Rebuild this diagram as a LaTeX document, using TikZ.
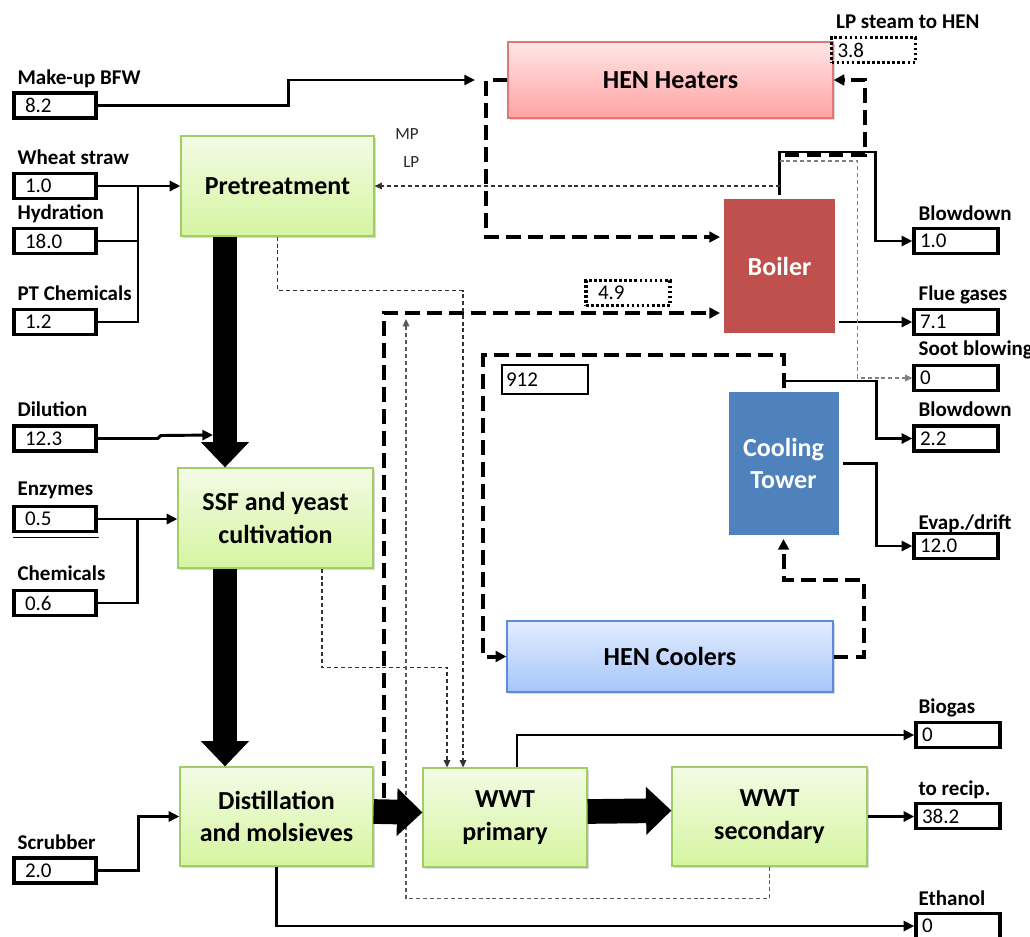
\documentclass[tikz,border=0pt]{standalone}
\usepackage{fontspec}
\setmainfont{Carlito}
\usetikzlibrary{arrows.meta,calc,shadows}

\definecolor{grtop}{RGB}{243,251,229}
\definecolor{grbot}{RGB}{213,245,160}
\definecolor{grline}{RGB}{160,205,100}
\definecolor{pktop}{RGB}{255,230,230}
\definecolor{pkbot}{RGB}{255,162,162}
\definecolor{pkline}{RGB}{225,120,120}
\definecolor{bltop}{RGB}{226,236,255}
\definecolor{blbot}{RGB}{166,198,250}
\definecolor{blline}{RGB}{90,140,215}
\definecolor{boilred}{RGB}{192,80,77}
\definecolor{ctblue}{RGB}{79,129,189}

\begin{document}
\begin{tikzpicture}[x=0.75pt,y=-0.75pt,
  sz/.style 2 args={minimum width=#1*0.75pt, minimum height=#2*0.75pt},
  boxfont/.style={font=\fontsize{19.5}{24.5}\selectfont\bfseries},
  softshadow/.style={drop shadow={shadow xshift=1.6pt, shadow yshift=-1.6pt, opacity=0.3}},
  proc/.style={draw=grline, line width=0.9pt, top color=grtop, bottom color=grbot,
    inner sep=0pt, align=center, boxfont, softshadow},
  heater/.style={proc, draw=pkline, top color=pktop, bottom color=pkbot},
  cooler/.style={proc, draw=blline, top color=bltop, bottom color=blbot},
  utility/.style={draw=white, line width=3pt, text=white, inner sep=0pt, align=center,
    boxfont, softshadow},
  valbox/.style={draw, line width=2.5pt, inner ysep=0pt, minimum height=25*0.75pt,
    align=left, font=\fontsize{15.75}{18}\selectfont},
  leftval/.style={valbox, inner xsep=8.25pt, text width=45pt},
  rightval/.style={valbox, inner xsep=4.5pt, text width=54pt},
  dotbox/.style={rightval, dash pattern=on 2pt off 1.8pt, line width=2.4pt},
  lbl/.style={anchor=base west, inner sep=0pt, font=\fontsize{15.75}{18}\selectfont\bfseries},
  small/.style={anchor=base west, inner sep=0pt, font=\fontsize{12.75}{15}\selectfont, text=black!85},
  flow/.style={line width=2.2pt, -{Triangle[length=8pt,width=7.5pt]}},
  flowline/.style={line width=2.2pt},
  steam/.style={line width=3pt, dash pattern=on 11pt off 5.5pt, -{Triangle[length=8pt,width=8pt]}},
  thinflow/.style={line width=0.9pt, black!80, dash pattern=on 3pt off 2.2pt, -{Triangle[length=5.5pt,width=5pt]}},
  sootflow/.style={thinflow, black!50},
  bigarrow/.style={line width=18.5pt, -{Triangle[length=19pt,width=35pt]}}
]
\useasboundingbox (0,0) rectangle (1030,936);

% ---------- process blocks ----------
\node[proc, sz={193}{100}] (pre)  at (277.5,186)   {Pretreatment};
\node[proc, sz={195}{100}] (ssf)  at (275.5,518)   {SSF and yeast\\cultivation};
\node[proc, sz={193}{99}]  (dist) at (276.5,816.5) {Distillation\\and molsieves};
\node[proc, sz={164}{99}]  (wwtp) at (505,817.5)   {WWT\\primary};
\node[proc, sz={195}{99}]  (wwts) at (769.5,816.5) {WWT\\secondary};
\node[heater, sz={325}{76}] (hh)  at (670.5,80)    {HEN Heaters};
\node[cooler, sz={326}{71}] (hc)  at (670,656.5)   {HEN Coolers};
\node[utility, fill=boilred, sz={115}{138}] (boiler) at (779.5,266) {Boiler};
\node[utility, fill=ctblue,  sz={114}{147}] (ct)     at (783.5,463.5) {Cooling\\Tower};

% ---------- feed streams (left) ----------
\node[leftval] (mbfw) at (55,105.5) {8.2};
\node[leftval] (ws)   at (55,186)   {1.0};
\node[leftval] (hy)   at (55,241)   {18.0};
\node[leftval] (ptc)  at (55,322)   {1.2};
\node[leftval] (dil)  at (55,438.5) {12.3};
\node[leftval] (enz)  at (55,519)   {0.5};
\node[leftval] (chm)  at (55,603)   {0.6};
\node[leftval] (scr)  at (55,870.5) {2.0};
\draw[line width=0.8pt] ($(enz.south west)+(1,4)$) -- ($(enz.south east)+(1,4)$);

\node[lbl] (l-mbfw) at ($(mbfw.north west)+(5,-7)$) {Make-up BFW};
\node[lbl] (l-ws)   at ($(ws.north west)+(5,-7)$)   {Wheat straw};
\node[lbl] (l-hy)   at ($(hy.north west)+(5,-7)$)   {Hydration};
\node[lbl] (l-ptc)  at ($(ptc.north west)+(5,-7)$)  {PT Chemicals};
\node[lbl] (l-dil)  at ($(dil.north west)+(5,-8)$)  {Dilution};
\node[lbl] (l-enz)  at ($(enz.north west)+(5,-9)$)  {Enzymes};
\node[lbl] (l-chm)  at ($(chm.north west)+(5,-8)$)  {Chemicals};
\node[lbl] (l-scr)  at ($(scr.north west)+(5,-7)$)  {Scrubber};

% ---------- product streams (right) ----------
\node[dotbox]   (lps)  at (873.5,50) {3.8};
\node[rightval] (bd1)  at (956,241)  {1.0};
\node[rightval] (fg)   at (956,322)  {7.1};
\node[rightval] (soot) at (956,378)  {0};
\node[rightval] (bd2)  at (956,438.5){2.2};
\node[rightval] (evap) at (956,546)  {12.0};
\node[rightval] (bio)  at (958,735)  {0};
\node[rightval] (rec)  at (958,816)  {38.2};
\node[rightval] (eth)  at (958,926)  {0};

\node[lbl] (l-lps)  at ($(lps.north west)+(6,-7)$)  {LP steam to HEN};
\node[lbl] (l-bd1)  at ($(bd1.north west)+(6,-6)$)  {Blowdown};
\node[lbl] (l-fg)   at ($(fg.north west)+(6,-7)$)   {Flue gases};
\node[lbl] (l-soot) at ($(soot.north west)+(6,-8)$) {Soot blowing};
\node[lbl] (l-bd2)  at ($(bd2.north west)+(6,-8)$)  {Blowdown};
\node[lbl] (l-evap) at ($(evap.north west)+(6,-2)$) {Evap./drift};
\node[lbl] (l-bio)  at ($(bio.north west)+(4,-7)$)  {Biogas};
\node[lbl] (l-rec)  at ($(rec.north west)+(4,-6)$)  {to recip.};
\node[lbl] (l-eth)  at ($(eth.north west)+(4,-6)$)  {Ethanol};

% ---------- utility figures ----------
\node[rightval, line width=1.8pt, text width=58.5pt, inner xsep=3pt, minimum height=29*0.75pt] (cw) at (545,379.5) {912};
\node[dotbox, inner xsep=9pt, text width=45pt] (bfs) at (628,293) {4.9};
\node[small] (mp) at (395,139) {MP};
\node[small] (lp) at (403,167) {LP};

% ---------- free ends ----------
\coordinate (bfwin) at (475,80);
\coordinate (j1) at (138,186);
\coordinate (dilin) at (213,435);
\coordinate (ret) at (406,319);

% ---------- feeds ----------
\draw[flow] (mbfw.east) -- ++(191,0) |- (bfwin);
\draw[flow] (ws.east) -- (pre.west);
\draw[flowline] (hy.east) -| (j1);
\draw[flowline] (ptc.east) -| (j1);
\draw[flow] (dil.east) -- ++(60,0) -- ++(3,-3) -- (dilin);
\draw[flow] (enz.east) -- (enz.east -| ssf.west);
\draw[flowline] (chm.east) -| ($(enz.east)+(40,0)$);
\draw[flow] (scr.east) -- ++(41,0) |- (dist.west);

% ---------- products ----------
\draw[flow] (dist.south) |- (eth.west);
\draw[flow] ($(wwtp.north)+(12,0)$) |- (bio.west);
\draw[flow] (wwts.east) -- (wwts.east -| rec.west);
\draw[flow] (boiler.north) -- ++(0,-43) -| ($(bd1.west)+(-37,0)$) -- (bd1.west);
\draw[flow] ($(boiler.east)+(0,56)$) -- (fg.west);
\draw[flowline] ($(ct.north)+(0,-15)$) -- (ct.north);
\draw[flow] ($(ct.north)+(0,-7)$) -| ($(bd2.west)+(-36,0)$) -- (bd2.west);
\draw[flow] (ct.east) -| ($(evap.west)+(-36,0)$) -- (evap.west);

% ---------- steam and cooling water ----------
\draw[steam] (hh.west) -- ++(-21,0) |- ($(boiler.west)+(0,-29)$);
\draw[steam] ($(boiler.north)+(5,-40)$) -| ($(hh.east)+(31,0)$) -- (hh.east);
\draw[steam] ($(dist.east)+(10,-19)$) |- ($(boiler.west)+(0,47)$);
\draw[steam] (hc.east) -- ++(30,0) |- ($(ct.south)+(0,41)$) -- (ct.south);
\draw[steam] (ct.north) -- ++(0,-33) -| ($(hc.west)+(-23,0)$) -- (hc.west);

% ---------- thin service lines ----------
\draw[thinflow] (pre.east -| boiler.north) -- (pre.east);
\draw[sootflow] ($(boiler.north)+(0,-34)$) -| ($(soot.west)+(-55,0)$) -- (soot.west);
\draw[thinflow] (pre.south) -- ++(0,54) -| ($(wwtp.north)+(-42,0)$);
\draw[thinflow] ($(ssf.south)+(46.5,0)$) -- ++(0,99) -| ($(wwtp.north)+(-58,0)$);
\draw[sootflow, black!65] (wwts.south) -- ++(0,32) -| (ret);

% ---------- main process flow ----------
\draw[bigarrow] ($(pre.south)+(-52.5,0)$) -- ($(ssf.north)+(-50.5,0)$);
\draw[bigarrow] ($(ssf.south)+(-50.5,0)$) -- ($(dist.north)+(-51.5,0)$);
\draw[bigarrow] ($(dist.east)+(0,-5)$) -- ($(wwtp.west)+(0,-5)$);
\draw[bigarrow] ($(wwtp.east)+(0,-6)$) -- ($(wwts.west)+(0,-6)$);
\end{tikzpicture}
\end{document}
